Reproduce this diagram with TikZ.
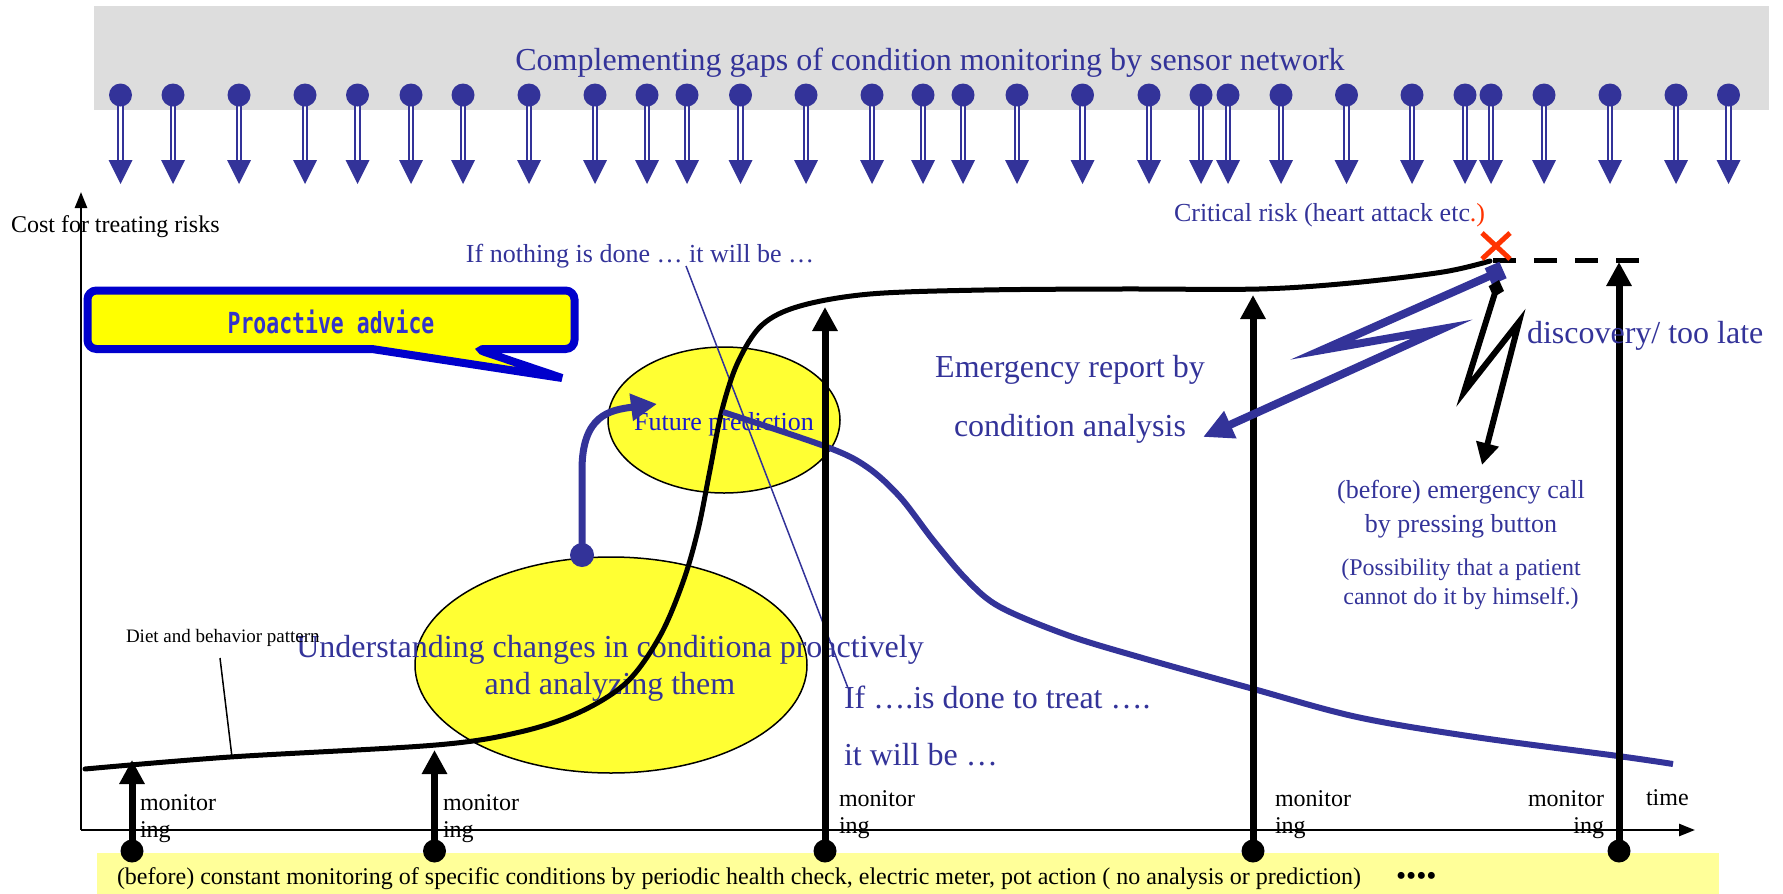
\documentclass[tikz,border=0pt]{standalone}
\usepackage{fontspec}
\setmainfont{Liberation Serif}
\newfontfamily\advfont{DejaVu Sans Mono}
\usetikzlibrary{arrows.meta,shapes.geometric}
\definecolor{sblue}{HTML}{333399}
\definecolor{tblue}{HTML}{333399}
\definecolor{fblue}{HTML}{1A1ACC}
\definecolor{pblue}{HTML}{3333CC}
\definecolor{cborder}{HTML}{0000CC}
\definecolor{ayellow}{HTML}{FFFF00}
\definecolor{eyellow}{HTML}{FFFF33}
\definecolor{byellow}{HTML}{FFFF99}
\definecolor{bgray}{HTML}{DDDDDD}
\definecolor{xred}{HTML}{FF3300}
\newcommand{\fsz}[1]{\fontsize{#1}{#1}\selectfont}
\begin{document}
\begin{tikzpicture}[x=1pt,y=-1pt,
  lbl/.style={inner sep=0pt, outer sep=0pt},
  mon/.style={line width=7pt, -{Triangle[length=24pt,width=24pt]}},
  monlbl/.style={lbl, font=\fsz{24}},
  bigellipse/.style={draw, ellipse, fill=eyellow, line width=1.5pt, inner sep=0pt}]
\useasboundingbox (0,0) rectangle (1783,894);
% top band
\fill[bgray] (94,6) rectangle (1769,110);
\node[lbl, anchor=base, font=\fsz{32}, text=tblue] (title) at (930,70) {Complementing gaps of condition monitoring by sensor network};
\foreach \x in {120.5,173,239,305,357.5,411,463,529,595,647,687,740.5,806,872,923,963,1017,1082.5,1149,1201,1228,1281,1346.5,1412,1465,1491,1544,1610,1676,1728.5} {
  \draw[sblue, line width=2pt, double=white, double distance=2.5pt] (\x,104) -- (\x,162);
  \fill[sblue] (\x,95) circle[radius=11.5];
  \fill[sblue] (\x-12,160) -- (\x+12,160) -- (\x,184) -- cycle;
}
% bottom band
\fill[byellow] (97,853) rectangle (1719,894);
\node[lbl, anchor=base west, font=\fsz{24}] (bottomtxt) at (117,884) {(before) constant monitoring of specific conditions by periodic health check, electric meter, pot action ( no analysis or prediction)};
\node[lbl, anchor=base west, font=\fsz{29}] (dots) at (1396,885) {••••};
% axes
\draw[line width=2.5pt, -{Triangle[length=16pt,width=12pt]}] (81,830) -- (81,192);
\draw[line width=2.5pt, -{Triangle[length=16pt,width=12pt]}] (81,830) -- (1695,830);
\node[lbl, anchor=base west, font=\fsz{24}] (ylabel) at (11,232) {Cost for treating risks};
\node[lbl, anchor=base west, font=\fsz{24}] (xlabel) at (1646,805) {time};
% callout
\draw[cborder, fill=ayellow, line width=8pt, rounded corners=9pt] (87.5,290.5) -- (574.5,290.5) -- (574.5,349) -- (476,349) [sharp corners] -- (562,378) -- (372,349) [rounded corners=9pt] -- (87.5,349) -- cycle;
\node[lbl, anchor=base, text=pblue] (advice) at (331,333) {\scalebox{0.74}[1]{\advfont\bfseries\fsz{29}Proactive advice}};
% ellipses
\node[bigellipse, minimum width=392pt, minimum height=216pt] (undE) at (611,665) {};
\node[bigellipse, minimum width=232pt, minimum height=146pt] (futE) at (724,420) {};
\node[lbl, anchor=base, font=\fsz{26}, text=fblue] (futT) at (724,430) {Future prediction};
\node[lbl, anchor=base, font=\fsz{32}, text=tblue] (undT1) at (610,657) {Understanding changes in conditiona proactively};
\node[lbl, anchor=base, font=\fsz{32}, text=tblue] (undT2) at (610,694) {and analyzing them};
% texts
\node[lbl, anchor=base, font=\fsz{26}, text=tblue] (nothing) at (640,262) {If nothing is done … it will be …};
\node[lbl, anchor=base west, font=\fsz{32}, text=tblue] (treat1) at (844,708) {If ….is done to treat ….};
\node[lbl, anchor=base west, font=\fsz{32}, text=tblue] (treat2) at (844,765) {it will be …};
\node[lbl, anchor=base west, font=\fsz{19}] (diet) at (126,642) {Diet and behavior pattern};
\coordinate (dietA) at (220,658);
\coordinate (dietB) at (232,757);
\draw[line width=1.5pt] (dietA) -- (dietB);
\coordinate (thinA) at (686,266);
\coordinate (thinB) at (848,688);
\draw[sblue, line width=1.5pt] (thinA) -- (thinB);
% main black curve
\draw[line width=5pt, line cap=round] plot[smooth, tension=0.55] coordinates {(85,769) (230,757) (436,745) (520,732) (580,712) (627,682) (660,636) (683,582) (698,530) (710,470) (722,410) (738,362) (762,325) (800,306) (870,294) (984,290) (1121,289) (1259,289) (1351,283) (1443,272) (1490,261)};
% blue curve
\draw[sblue, line width=6pt] plot[smooth, tension=0.55] coordinates {(723,412) (827,447) (867,467) (900,497) (933,540) (967,580) (1000,607) (1067,635) (1139,657) (1250,688) (1357,717) (1475,737) (1618,756) (1673,764)};
% curved arrow from understanding to prediction
\coordinate (cdot) at (582,555);
\coordinate (ctip) at (657,404);
\fill[sblue] (cdot) circle[radius=12];
\draw[sblue, line width=7pt, -{Triangle[length=26pt,width=26pt]}] (cdot) -- (582,470) .. controls (582,415) and (610,410) .. (ctip);
% monitoring arrows
\fill (132,851) circle[radius=11.5];
\draw[mon] (132,851) -- (132,760);
\fill (434.5,851) circle[radius=11.5];
\draw[mon] (434.5,851) -- (434.5,750);
\fill (825,851) circle[radius=11.5];
\draw[mon] (825,851) -- (825,307);
\fill (1253,851) circle[radius=11.5];
\draw[mon] (1253,851) -- (1253,295);
\fill (1619,851) circle[radius=11.5];
\draw[mon] (1619,851) -- (1619,262);
\node[monlbl, anchor=base west] (m1a) at (140,810) {monitor};
\node[monlbl, anchor=base west] (m1b) at (140,837) {ing};
\node[monlbl, anchor=base west] (m2a) at (443,810) {monitor};
\node[monlbl, anchor=base west] (m2b) at (443,837) {ing};
\node[monlbl, anchor=base west] (m3a) at (839,806) {monitor};
\node[monlbl, anchor=base west] (m3b) at (839,833) {ing};
\node[monlbl, anchor=base west] (m4a) at (1275,806) {monitor};
\node[monlbl, anchor=base west] (m4b) at (1275,833) {ing};
\node[monlbl, anchor=base east] (m5a) at (1604,806) {monitor};
\node[monlbl, anchor=base east] (m5b) at (1604,833) {ing};
% critical risk
\node[lbl, anchor=base west, font=\fsz{26}, text=tblue] (crit) at (1174,221) {Critical risk (heart attack etc\textcolor{xred}{.)}};
\draw[line width=5pt, dash pattern=on 23pt off 18pt] (1493,260) -- (1643,260);
\draw[xred, line width=5pt] (1482,233) -- (1510,259) (1510,233) -- (1482,259);
% lightning arrows
\coordinate (bl0) at (1503,270);
\coordinate (bl1) at (1322,350);
\coordinate (bl2) at (1442,329);
\coordinate (bl3) at (1203,437);
\draw[sblue, line width=8pt, {Square[length=16pt,width=18pt]}-{Triangle[length=30pt,width=28pt]}] (bl0) -- (bl1) -- (bl2) -- (bl3);
\coordinate (k0) at (1499,280);
\coordinate (k1) at (1464,392);
\coordinate (k2) at (1519,322);
\coordinate (k3) at (1482,465);
\draw[line width=6pt, {Diamond[length=18pt,width=16pt]}-{Triangle[length=22pt,width=22pt]}] (k0) -- (k1) -- (k2) -- (k3);
\node[lbl, anchor=base, font=\fsz{32}, text=tblue] (emer1) at (1070,377) {Emergency report by};
\node[lbl, anchor=base, font=\fsz{32}, text=tblue] (emer2) at (1070,436) {condition analysis};
\node[lbl, anchor=base west, font=\fsz{32}, text=tblue] (disc) at (1527,343) {discovery/ too late};
\node[lbl, anchor=base, font=\fsz{26}, text=tblue] (call1) at (1461,498) {(before) emergency call};
\node[lbl, anchor=base, font=\fsz{26}, text=tblue] (call2) at (1461,532) {by pressing button};
\node[lbl, anchor=base, font=\fsz{24}, text=tblue] (poss1) at (1461,575) {(Possibility that a patient};
\node[lbl, anchor=base, font=\fsz{24}, text=tblue] (poss2) at (1461,604) {cannot do it by himself.)};
\end{tikzpicture}
\end{document}
